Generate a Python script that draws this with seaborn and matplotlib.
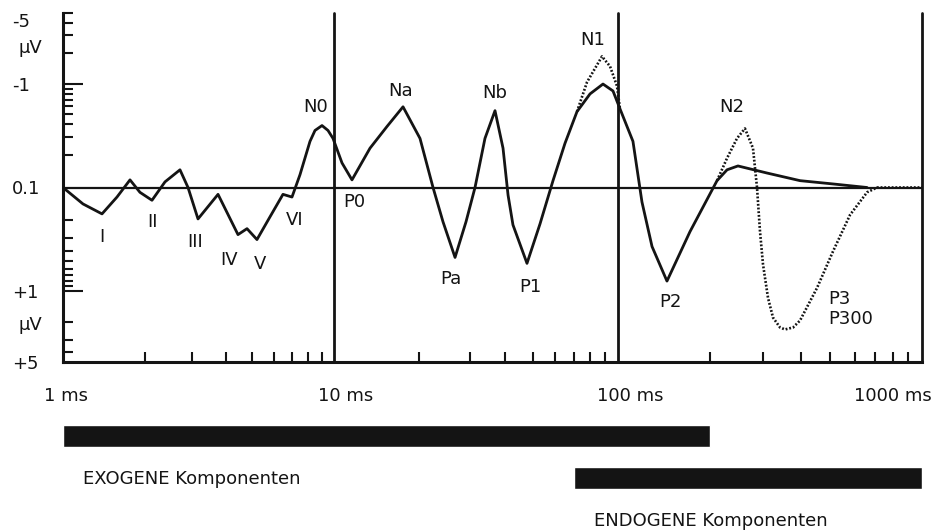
import numpy as np
import pandas as pd
import matplotlib
matplotlib.use("Agg")
import matplotlib.pyplot as plt
import matplotlib.transforms as mtransforms
from matplotlib.ticker import FixedLocator, FixedFormatter, NullFormatter
import seaborn as sns

# ---------------- data (latency in ms, amplitude in µV; negative = up) ----------------
solid_ms = [1.000, 1.185, 1.393, 1.582, 1.767, 1.923, 2.130, 2.379, 2.702, 2.893,
            3.149, 3.733, 4.423, 4.775, 5.197, 5.805, 6.482, 6.998, 7.490, 8.155,
            8.509, 9.031, 9.504, 9.915, 10.67, 11.57, 13.39, 15.37, 17.50, 20.08, 22.32, 24.20,
            26.68, 29.16, 31.37, 34.01, 36.89, 39.37, 41.01, 42.67, 47.81, 53.14,
            59.04, 65.06, 71.71, 79.70, 88.54, 96.03, 101.5, 112.0, 119.9, 129.4,
            144.9, 172.5, 211.7, 228.4, 248.1, 309.1, 396.9, 509.5, 659.5]
solid_uv = [0.0, 0.138, 0.173, 0.118, -0.113, 0.106, 0.127, -0.108, -0.142, 0.0,
            0.194, 0.111, 0.277, 0.242, 0.310, 0.185, 0.111, 0.118, -0.127, -0.271,
            -0.347, -0.388, -0.347, -0.290, -0.166, -0.113, -0.232, -0.380, -0.594, -0.290, 0.0, 0.207,
            0.465, 0.207, 0.0, -0.290, -0.544, -0.232, 0.113, 0.222, 0.532, 0.217,
            -0.111, -0.259, -0.532, -0.796, -0.996, -0.851, -0.568, -0.271, 0.132, 0.363,
            0.796, 0.259, -0.111, -0.142, -0.155, -0.132, -0.111, -0.103, 0.0]

n1_dotted_ms = [71.71, 77.79, 87.83, 93.72, 99.19, 101.5]
n1_dotted_uv = [-0.532, -1.041, -1.865, -1.491, -0.952, -0.568]

p3_dotted_ms = [211.7, 228.4, 246.3, 261.6, 278.0, 286.6, 293.2, 299.9, 311.5, 323.5,
                341.2, 354.3, 376.5, 396.9, 451.4, 509.5, 579.8, 659.5, 711.2, 1000.0]
p3_dotted_uv = [-0.111, -0.185, -0.290, -0.363, -0.232, 0.0, 0.259, 0.544, 1.165, 1.823,
                2.282, 2.387, 2.282, 1.951, 0.931, 0.406, 0.177, 0.106, 0.0, 0.0]

comp_names = ["I", "II", "III", "IV", "V", "VI", "N0", "P0", "Na", "Pa",
              "Nb", "P1", "N1", "P2", "N2", "P3\nP300"]
comp_ms = [1.393, 2.130, 3.149, 4.423, 5.197, 6.998, 9.031, 11.57, 17.50, 26.68,
           36.89, 47.81, 87.83, 144.9, 261.6, 354.3]
comp_uv = [0.173, 0.127, 0.194, 0.277, 0.310, 0.118, -0.388, -0.113, -0.594, 0.465,
           -0.544, 0.532, -1.865, 0.796, -0.363, 2.387]

x_decades = [1, 10, 100, 1000]
x_tick_labels = ["1 ms", "10 ms", "100 ms", "1000 ms"]
y_major = [-5, -1, 0, 1, 5]
y_tick_labels = ["-5", "-1", "0.1", "+1", "+5"]
y_minor = [-4, -3, -2, -0.9, -0.8, -0.7, -0.6, -0.5, -0.4, -0.3, -0.2,
           0.2, 0.3, 0.4, 0.5, 0.6, 0.7, 0.8, 0.9, 2, 3, 4]
unit_label = "µV"

bar_names = ["EXOGENE Komponenten", "ENDOGENE Komponenten"]
bar_start = [1, 70]
bar_end = [200, 1000]

# ---------------- style / layout ----------------
sns.set_theme(style="white")
plt.rcParams["font.family"] = ["DejaVu Sans"]
INK = "#141414"
FS = 13
W, H = 939, 530

fig = plt.figure(figsize=(W / 100, H / 100), dpi=100)
fig.patch.set_facecolor("white")


def box(l, t, r, b):
    return [l / W, 1 - b / H, (r - l) / W, (b - t) / H]


# hand-drawn decades are not equally wide: piecewise log axis
def x_fwd(x):
    l = np.log10(np.clip(np.asarray(x, dtype=float), 1e-6, None))
    return np.where(l < 1, l * 271.0,
                    np.where(l < 2, 271.0 + (l - 1) * 284.0, 555.0 + (l - 2) * 304.0))


def x_inv(t):
    t = np.asarray(t, dtype=float)
    return 10 ** np.where(t < 271.0, t / 271.0,
                          np.where(t < 555.0, 1 + (t - 271.0) / 284.0, 2 + (t - 555.0) / 304.0))


ax = fig.add_axes(box(63, 13, 922, 362))
ax.set_xscale("function", functions=(x_fwd, x_inv))
ax.set_yscale("symlog", linthresh=0.1, linscale=0.02)
ax.set_xlim(1, 1000)
ax.set_ylim(5, -5)
ax.set_facecolor("white")

# reference lines
ax.axhline(0, color=INK, lw=1.6, zorder=1)
for d in x_decades[1:]:
    ax.axvline(d, color=INK, lw=2.0, zorder=1, clip_on=False)

# curves
sns.lineplot(data=pd.DataFrame({"ms": solid_ms, "uv": solid_uv}), x="ms", y="uv",
             sort=False, estimator=None, color=INK, lw=2.0, ax=ax, zorder=3)
for seg_ms, seg_uv in [(n1_dotted_ms, n1_dotted_uv), (p3_dotted_ms, p3_dotted_uv)]:
    sns.lineplot(data=pd.DataFrame({"ms": seg_ms, "uv": seg_uv}), x="ms", y="uv",
                 sort=False, estimator=None, color=INK, lw=1.9,
                 linestyle=(0, (0.7, 0.7)), ax=ax, zorder=4)

ax.set_xlabel("")
ax.set_ylabel("")

# spines
for s in ["top", "right"]:
    ax.spines[s].set_visible(False)
for s in ["left", "bottom"]:
    ax.spines[s].set_color(INK)
    ax.spines[s].set_linewidth(2.2)

# x ticks
ax.xaxis.set_major_locator(FixedLocator(x_decades))
ax.xaxis.set_major_formatter(FixedFormatter(x_tick_labels))
x_minor = [m * 10 ** k for k in range(3) for m in range(2, 10)]
ax.xaxis.set_minor_locator(FixedLocator(x_minor))
ax.xaxis.set_minor_formatter(NullFormatter())
ax.tick_params(axis="both", which="both", bottom=True, left=True, top=False, right=False)
ax.tick_params(axis="x", which="major", length=0, pad=18.0, labelsize=FS, labelcolor=INK)
ax.tick_params(axis="x", which="minor", direction="in", length=7.2, width=1.5, color=INK)
x_label_shift = [3, 12, 12, -29]
for lab, dx in zip(ax.get_xticklabels(), x_label_shift):
    lab.set_transform(lab.get_transform() + mtransforms.ScaledTranslation(dx / 100, 0, fig.dpi_scale_trans))

# y ticks
ax.yaxis.set_major_locator(FixedLocator(y_major))
ax.yaxis.set_major_formatter(FixedFormatter(y_tick_labels))
ax.yaxis.set_minor_locator(FixedLocator(y_minor))
ax.yaxis.set_minor_formatter(NullFormatter())
ax.tick_params(axis="y", which="major", direction="in", length=7.2, width=1.5, color=INK,
               pad=36.7, labelsize=FS, labelcolor=INK)
ax.tick_params(axis="y", which="minor", direction="in", length=7.2, width=1.5, color=INK)
for tick, L in zip(ax.yaxis.get_major_ticks(len(y_major)), [7.2, 14.4, 0, 14.4, 0]):
    tick.tick1line.set_markersize(L)
ylabs = ax.get_yticklabels()
for lab in ylabs:
    lab.set_horizontalalignment("left")
ylabs[0].set_verticalalignment("top")

# µV unit labels
fig.text(18 / W, 1 - 48 / H, unit_label, ha="left", va="center", fontsize=FS, color=INK)
fig.text(18 / W, 1 - 325 / H, unit_label, ha="left", va="center", fontsize=FS, color=INK)

# component labels (offsets in screen pixels: right, down)
label_offsets = [(0, 23), (1, 22), (-3, 23), (-9, 25), (3, 24), (3, 23), (-6, -19), (2, 22),
                 (-2, -16), (-4, 22), (0, -18), (3, 24), (-9, -16), (3, 21), (-13, -21), (43, -20)]
for name, xm, yv, (dx, dy) in zip(comp_names, comp_ms, comp_uv, label_offsets):
    ha = "left" if "\n" in name else "center"
    ax.annotate(name, xy=(xm, yv), xytext=(dx, -dy), textcoords="offset pixels",
                ha=ha, va="center", fontsize=FS, color=INK, linespacing=1.15, zorder=5)

# exogenous / endogenous bars
ax2 = fig.add_axes(box(63, 415, 922, 499))
ax2.set_xscale("function", functions=(x_fwd, x_inv))
ax2.set_xlim(1, 1000)
ax2.set_ylim(1.5, -0.5)
ax2.barh(range(len(bar_names)), width=np.array(bar_end) - np.array(bar_start),
         left=bar_start, height=0.52, color=INK)
ax2.axis("off")
for i, name in enumerate(bar_names):
    ax2.annotate(name, xy=(bar_start[i], i), xytext=(20, -43), textcoords="offset pixels",
                 ha="left", va="center", fontsize=FS, color=INK)

fig.savefig("out.png", dpi=100)
